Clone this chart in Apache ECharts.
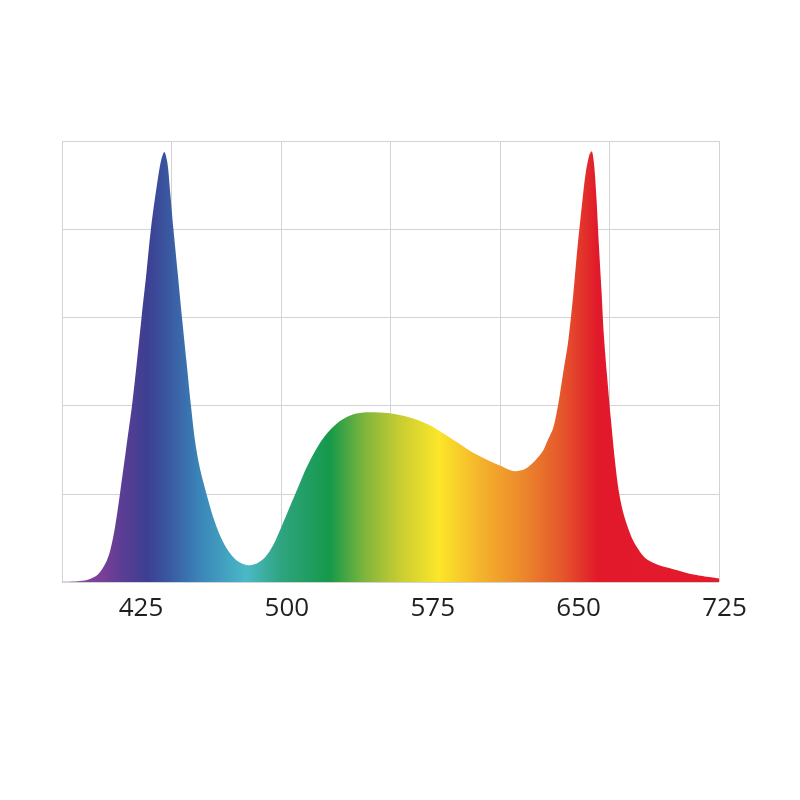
<!DOCTYPE html>
<html>
<head>
<meta charset="utf-8">
<script src="https://cdn.jsdelivr.net/npm/echarts@6/dist/echarts.min.js"></script>
<style>html,body{margin:0;padding:0;background:#fff;}#c{width:800px;height:800px;}</style>
</head>
<body>
<div id="c"></div>
<script>
// Wavelength (nm) and relative intensity (%)
var wavelengths = [384.4, 393.6, 398.8, 403.0, 406.5, 409.1, 411.6, 414.2, 417.3, 420.4, 422.8, 425.3, 427.8, 430.1, 433.2, 435.3, 437.0, 438.6, 439.9, 441.7, 443.9, 446.1, 448.4, 450.7, 452.8, 455.3, 458.8, 462.2, 465.6, 469.1, 472.5, 475.9, 480.2, 484.5, 488.8, 493.0, 497.3, 501.6, 505.9, 510.2, 515.3, 520.5, 525.6, 530.8, 535.9, 542.7, 552.1, 562.4, 572.7, 583.0, 593.3, 599.3, 604.4, 609.6, 613.4, 617.3, 622.4, 627.6, 631.8, 634.4, 637.0, 639.6, 642.1, 644.7, 647.3, 649.3, 651.6, 653.6, 655.5, 656.7, 657.9, 659.2, 660.5, 661.8, 663.0, 664.6, 666.6, 668.7, 670.7, 672.8, 675.4, 677.9, 680.7, 684.1, 690.1, 698.7, 709.0, 722.2];
var intensity = [0, 0.2, 0.7, 1.75, 4.0, 7.0, 12.3, 20.0, 30.0, 40.0, 49.5, 60.0, 70.0, 80.0, 90.0, 95.5, 97.5, 95.0, 89.0, 80.0, 70.0, 60.0, 50.0, 40.0, 32.0, 25.8, 19.8, 14.6, 10.6, 7.6, 5.6, 4.4, 3.8, 4.2, 5.6, 8.4, 12.6, 17.1, 21.6, 26.0, 30.3, 33.6, 35.9, 37.4, 38.2, 38.5, 38.3, 37.4, 35.7, 33.0, 30.0, 28.5, 27.4, 26.4, 25.6, 25.1, 25.6, 27.5, 29.8, 32.4, 35.0, 40.5, 47.5, 54.7, 65.3, 75.2, 85.0, 92.6, 96.8, 97.7, 95.0, 87.0, 76.0, 66.0, 56.0, 47.0, 37.0, 27.5, 20.5, 16.0, 12.3, 9.5, 7.4, 5.5, 4.0, 2.9, 1.7, 0.8];
var tickLabels = [425, 500, 575, 650, 725];
// Spectrum colour stops by wavelength
var stopWavelengths = [384.4, 405, 415, 428, 440, 455, 479, 497, 522, 540, 558, 578, 600, 622, 642, 660, 722.2];
var stopColors = ['#8b4fa0', '#7a3f98', '#5c3d94', '#3d3f92', '#3a5aa2', '#3a84b8', '#4ab9c6', '#2fa47f', '#15994a', '#7fb53c', '#c8cc32', '#fbe62a', '#f4b22c', '#ec862c', '#e4552b', '#e1192b', '#e31b2b'];

var wMin = wavelengths[0], wMax = wavelengths[wavelengths.length - 1];
var data = wavelengths.map(function (w, i) { return [w, intensity[i]]; });
var colorStops = stopWavelengths.map(function (w, i) {
  return { offset: (w - wMin) / (wMax - wMin), color: stopColors[i] };
});

var chart = echarts.init(document.getElementById('c'), null, { renderer: 'canvas' });
var gridColor = '#d3d3d3';
chart.setOption({
  backgroundColor: '#ffffff',
  animation: false,
  grid: [
    { left: 62, right: 81, top: 141, bottom: 218, containLabel: false },
    { left: 141, right: 75.5, top: 141, bottom: 218, containLabel: false }
  ],
  xAxis: [
    { type: 'value', gridIndex: 0, min: wMin, max: wMax, show: false },
    { type: 'value', gridIndex: 0, min: 0, max: 6, interval: 1,
      axisLine: { show: false }, axisTick: { show: false }, axisLabel: { show: false },
      splitLine: { show: true, lineStyle: { color: gridColor, width: 1 } } },
    { type: 'value', gridIndex: 1, min: tickLabels[0], max: tickLabels[tickLabels.length - 1], interval: 75,
      axisLine: { show: false }, axisTick: { show: false }, splitLine: { show: false },
      axisLabel: { show: true, margin: 14, fontSize: 26, color: '#231f20', fontFamily: 'Open Sans' } }
  ],
  yAxis: [
    { type: 'value', gridIndex: 0, min: 0, max: 100, interval: 20,
      axisLine: { show: false }, axisTick: { show: false }, axisLabel: { show: false },
      splitLine: { show: true, lineStyle: { color: gridColor, width: 1 } } },
    { type: 'value', gridIndex: 1, show: false, min: 0, max: 100 }
  ],
  series: [{
    type: 'line',
    xAxisIndex: 0,
    yAxisIndex: 0,
    data: data,
    smooth: 0.3,
    showSymbol: false,
    lineStyle: { width: 0 },
    areaStyle: {
      opacity: 1,
      color: { type: 'linear', x: 0, y: 0, x2: 1, y2: 0, colorStops: colorStops }
    }
  }]
});
</script>
</body>
</html>
